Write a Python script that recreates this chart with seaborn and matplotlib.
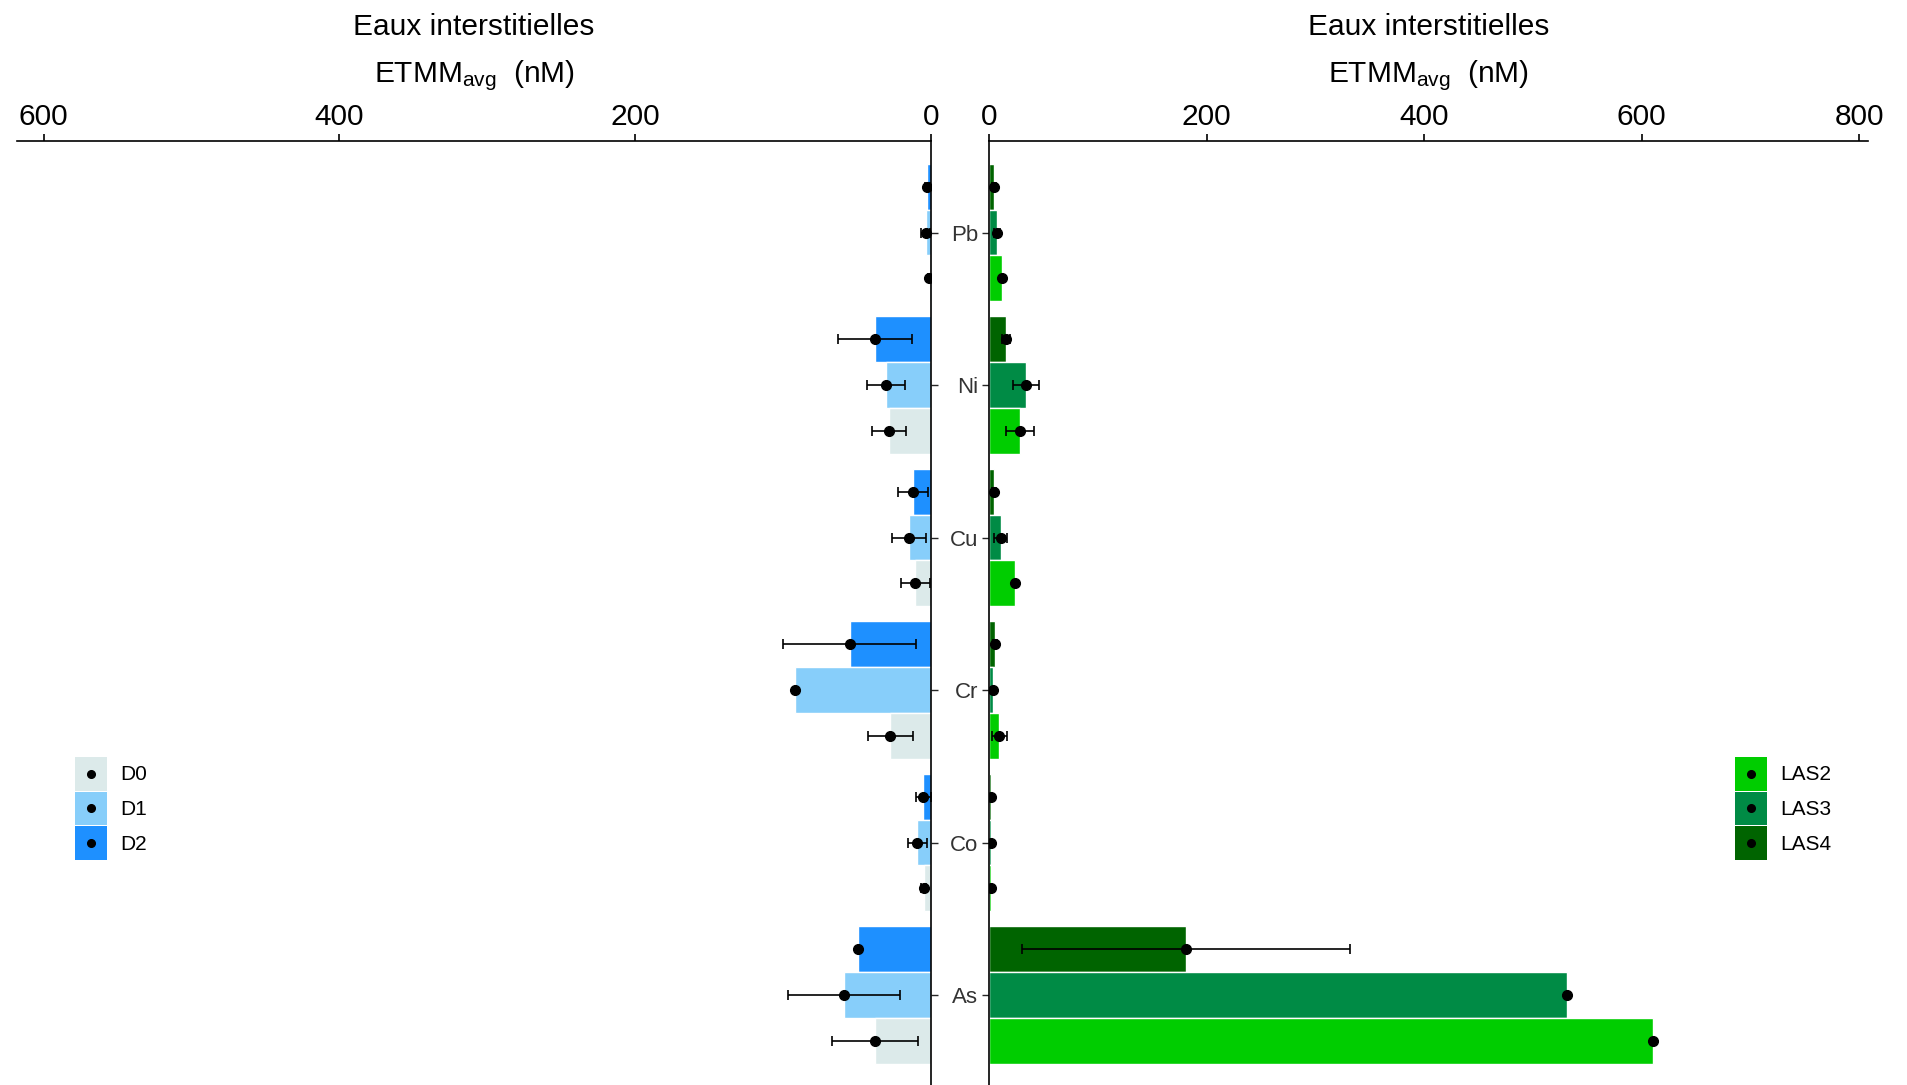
import numpy as np
import pandas as pd
import matplotlib
matplotlib.use("Agg")
import matplotlib.pyplot as plt
import seaborn as sns
from matplotlib.patches import Patch
from matplotlib.lines import Line2D
from matplotlib.legend_handler import HandlerBase

# --- data ---
elements = ["Pb", "Ni", "Cu", "Cr", "Co", "As"]

d_sites = ["D0", "D1", "D2"]
d0_mean = [1.5, 28.5, 10.5, 27.5, 5.0, 38.0]
d0_sd = [0.5, 11.7, 10.0, 15.0, 1.5, 29.0]
d1_mean = [3.5, 30.5, 15.0, 92.0, 9.3, 59.0]
d1_sd = [3.0, 13.0, 11.5, 0.0, 6.5, 38.0]
d2_mean = [2.5, 38.0, 12.0, 55.0, 5.3, 49.5]
d2_sd = [1.5, 25.0, 10.0, 45.0, 5.0, 0.0]

las_sites = ["LAS2", "LAS3", "LAS4"]
las2_mean = [11.5, 28.5, 24.0, 9.5, 1.5, 610.0]
las2_sd = [0.0, 13.0, 0.0, 7.0, 0.0, 0.0]
las3_mean = [7.5, 34.0, 11.0, 3.5, 1.5, 531.0]
las3_sd = [3.0, 12.0, 6.0, 0.0, 0.0, 0.0]
las4_mean = [4.5, 16.0, 4.5, 5.5, 1.5, 181.0]
las4_sd = [1.5, 3.7, 1.5, 1.5, 0.0, 151.0]

d_colors = {"D0": "#DCEAEA", "D1": "#87CEFA", "D2": "#1E90FF"}
las_colors = {"LAS2": "#00CD00", "LAS3": "#008B45", "LAS4": "#006400"}

left = pd.DataFrame({
    "element": elements * 3,
    "site": np.repeat(d_sites, len(elements)),
    "mean": d0_mean + d1_mean + d2_mean,
    "sd": d0_sd + d1_sd + d2_sd,
})
right = pd.DataFrame({
    "element": elements * 3,
    "site": np.repeat(las_sites, len(elements)),
    "mean": las2_mean + las3_mean + las4_mean,
    "sd": las2_sd + las3_sd + las4_sd,
})

sns.set_style("ticks")
plt.rcParams["font.family"] = ["Liberation Sans", "DejaVu Sans"]
plt.rcParams["mathtext.default"] = "regular"
plt.rcParams["text.color"] = "black"
plt.rcParams["axes.labelcolor"] = "black"

fig = plt.figure(figsize=(19.08, 10.85), dpi=100)
W, H = 1908, 1085
ax_l = fig.add_axes([17 / W, 0, (931 - 17) / W, 944 / H])
ax_r = fig.add_axes([989 / W, 0, (1868 - 989) / W, 944 / H])


def panel(ax, df, hue_order, palette):
    sns.barplot(data=df, y="element", x="mean", hue="site", order=elements,
                hue_order=hue_order, palette=palette, errorbar=None,
                width=0.9, saturation=1, legend=False, ax=ax)
    bars = list(ax.containers[:len(hue_order)])
    for cont, site in zip(bars, hue_order):
        sub = df[df.site == site].set_index("element").loc[elements]
        for bar, m, s in zip(cont, sub["mean"], sub["sd"]):
            yc = bar.get_y() + bar.get_height() / 2
            if s > 0:
                ax.errorbar(m, yc, xerr=s, fmt="none", ecolor="black",
                            elinewidth=1.2, capsize=3.3, capthick=1.2, zorder=3)
            ax.plot(m, yc, "o", color="black", ms=7, zorder=4)
    ax.set_ylim(5.59, -0.6)
    ax.set_xlabel("")
    ax.set_ylabel("")
    ax.xaxis.tick_top()
    ax.tick_params(axis="x", top=True, bottom=False, direction="out",
                   length=5, width=1.2, pad=2, labelsize=21.5, colors="black")
    for sp in ax.spines.values():
        sp.set_linewidth(1.2)
        sp.set_color("black")
    ax.spines["bottom"].set_visible(False)


# left: D sites, reversed x axis
panel(ax_l, left, ["D2", "D1", "D0"], d_colors)
ax_l.set_xlim(618, 0)
ax_l.set_xticks([0, 200, 400, 600])
ax_l.spines["left"].set_visible(False)
ax_l.spines["right"].set_visible(True)
ax_l.yaxis.tick_right()
ax_l.tick_params(axis="y", right=True, left=False, direction="out",
                 length=5, width=1.0, labelright=False, labelleft=False)

# right: LAS sites
panel(ax_r, right, ["LAS4", "LAS3", "LAS2"], las_colors)
ax_r.set_xlim(0, 808)
ax_r.set_xticks([0, 200, 400, 600, 800])
ax_r.spines["right"].set_visible(False)
ax_r.tick_params(axis="y", left=True, direction="out", length=5, width=1.0,
                 pad=3, labelsize=16, labelcolor="#333333")

# titles above each panel
for ax in (ax_l, ax_r):
    bb = ax.get_position()
    xc = (bb.x0 + bb.x1) / 2
    fig.text(xc, 1 - 35 / H, "Eaux interstitielles", ha="center",
             va="baseline", fontsize=21.5, color="black")
    fig.text(xc, 1 - 82 / H, "ETMM$_{avg}$  (nM)", ha="center",
             va="baseline", fontsize=21.5, color="black")


# dot centred on the legend key square
class CenteredDot(HandlerBase):
    def create_artists(self, legend, orig, xdescent, ydescent, width, height,
                       fontsize, trans):
        dot = Line2D([width / 2 - xdescent], [height / 2 - ydescent],
                     ls="none", marker="o", color="black", ms=5.5,
                     transform=trans)
        return [dot]


def legend_handles(colors):
    return [(Patch(facecolor=c, edgecolor="none"),
             Line2D([], [], ls="none", marker="o", color="black"))
            for c in colors]


leg_kw = dict(loc="upper left", frameon=False, fontsize=15, handlelength=1.55,
              handleheight=2.1, labelspacing=0.05, handletextpad=0.6,
              borderpad=0, borderaxespad=0, handler_map={Line2D: CenteredDot()})
fig.legend(legend_handles([d_colors[s] for s in d_sites]), d_sites,
           bbox_to_anchor=(75 / W, 1 - 757 / H), **leg_kw)
fig.legend(legend_handles([las_colors[s] for s in las_sites]), las_sites,
           bbox_to_anchor=(1735 / W, 1 - 757 / H), **leg_kw)

fig.savefig("out.png", dpi=100)
